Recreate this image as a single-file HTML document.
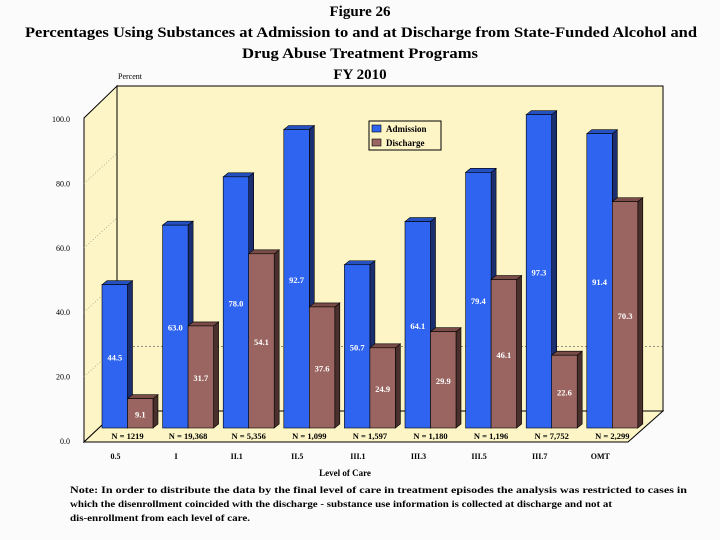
<!DOCTYPE html>
<html><head><meta charset="utf-8"><style>
html,body{margin:0;padding:0;background:#fbfbfb;}
svg{display:block;font-family:"Liberation Serif",serif;}
</style></head><body>
<svg id="chart" width="720" height="540" viewBox="0 0 720 540" xmlns="http://www.w3.org/2000/svg">
<g font-weight="bold" font-size="15" text-anchor="middle" fill="#000">
<text x="360" y="16">Figure 26</text>
<text x="361" y="37" textLength="672" lengthAdjust="spacingAndGlyphs">Percentages Using Substances at Admission to and at Discharge from State-Funded Alcohol and</text>
<text x="360" y="58" textLength="236" lengthAdjust="spacingAndGlyphs">Drug Abuse Treatment Programs</text>
<text x="360" y="79">FY 2010</text>
</g>
<text x="118" y="79" font-size="8">Percent</text>
<polygon points="117,86 663,86 663,411 117,411" fill="#fdf5c6" stroke="#000" stroke-width="1"/>
<polygon points="84,118 117,86 117,411 84,442" fill="#fdf5c6" stroke="#000" stroke-width="1"/>
<polygon points="84,442 117,411 663,411 628,442" fill="#fdf5c6" stroke="#000" stroke-width="1"/>
<g id="axis"></g>
<g id="bars"></g>
<g id="labels"></g>
<g>
<rect x="369" y="121" width="72" height="29" fill="#fdf5c6" stroke="#000" stroke-width="1"/>
<rect x="372" y="125" width="9" height="7" fill="#2e64f0" stroke="#000" stroke-width="0.6"/>
<text x="386" y="132" font-size="9" font-weight="bold">Admission</text>
<rect x="372" y="139" width="9" height="7" fill="#9a6560" stroke="#000" stroke-width="0.6"/>
<text x="386" y="146" font-size="9" font-weight="bold">Discharge</text>
</g>
<text x="345" y="476" font-size="9" font-weight="bold" text-anchor="middle">Level of Care</text>
<g font-size="9.5" font-weight="bold">
<text x="70" y="493" textLength="617" lengthAdjust="spacingAndGlyphs">Note: In order to distribute the data by the final level of care in treatment episodes the analysis was restricted to cases in</text>
<text x="70" y="507" textLength="542" lengthAdjust="spacingAndGlyphs">which the disenrollment coincided with the discharge - substance use information is collected at discharge and not at</text>
<text x="70" y="521" textLength="180" lengthAdjust="spacingAndGlyphs">dis-enrollment from each level of care.</text>
</g>
</svg>
<script>
const categories=["0.5","I","II.1","II.5","III.1","III.3","III.5","III.7","OMT"];
const nLabels=["N = 1219","N = 19,368","N = 5,356","N = 1,099","N = 1,597","N = 1,180","N = 1,196","N = 7,752","N = 2,299"];
const admission=[44.5,63.0,78.0,92.7,50.7,64.1,79.4,97.3,91.4];
const discharge=[9.1,31.7,54.1,37.6,24.9,29.9,46.1,22.6,70.3];
const yTicks=[0,20,40,60,80,100];
const yTickLabels=["0.0","20.0","40.0","60.0","80.0","100.0"];

const NS="http://www.w3.org/2000/svg";
function mk(tag,attrs,parent){const e=document.createElementNS(NS,tag);for(const k in attrs)e.setAttribute(k,attrs[k]);parent.appendChild(e);return e;}
const yAxis=v=>441-v*3.22;
const yBar=v=>428-v*3.22;
const yBack=v=>411-v*3.22;
const xGroup=i=>102+i*60.6;
const bw=25.5, dx=5, dy=4;

const axis=document.getElementById('axis');
mk('line',{x1:84,y1:118,x2:84,y2:442,stroke:'#000','stroke-width':1},axis);
yTicks.forEach((t,i)=>{
  const y=yAxis(t);
  const l=mk('text',{x:70,y:y+3,'font-size':8,'text-anchor':'end'},axis);
  l.textContent=yTickLabels[i];
  
  
  if(t>0&&t<100){
    const g=mk('line',{x1:84,y1:y,x2:117,y2:yBack(t),stroke:'#888','stroke-width':0.6,'stroke-dasharray':'1,2'},axis);
    
    
  }
});
const gl=mk('line',{x1:117,y1:yBack(20),x2:663,y2:yBack(20),stroke:'#555','stroke-width':0.6,'stroke-dasharray':'2,2'},axis);



const bars=document.getElementById('bars');
function bar(x,v,front,side,top,name,lab){
  const y=yBar(v),b=428;
  const g=mk('g',{},bars);
  
  
  mk('polygon',{points:`${x+bw},${b} ${x+bw+dx},${b-dy} ${x+bw+dx},${y-dy} ${x+bw},${y}`,fill:side,stroke:'#000','stroke-width':0.6},g);
  mk('polygon',{points:`${x},${y} ${x+dx},${y-dy} ${x+bw+dx},${y-dy} ${x+bw},${y}`,fill:top,stroke:'#000','stroke-width':0.6},g);
  mk('rect',{x:x,y:y,width:bw,height:b-y,fill:front,stroke:'#000','stroke-width':0.6},g);
  const t=mk('text',{x:x+bw/2,y:(y+b)/2+4,'font-size':8.5,'font-weight':'bold','text-anchor':'middle',fill:'#fff'},g);
  t.textContent=lab;
}
categories.forEach((c,i)=>{
  const x=xGroup(i);
  bar(x,admission[i],'#2e64f0','#1b2f70','#2450c0','bar-admission-'+i,admission[i].toFixed(1));
  bar(x+bw,discharge[i],'#9a6560','#4a302c','#7a4c48','bar-discharge-'+i,discharge[i].toFixed(1));
});
const labels=document.getElementById('labels');
categories.forEach((c,i)=>{
  const cx=xGroup(i)+bw;
  const n=mk('text',{x:cx,y:439,'font-size':8.5,'font-weight':'bold','text-anchor':'middle'},labels);
  n.textContent=nLabels[i];
  
  
  const t=mk('text',{x:cx-12,y:459,'font-size':8,'font-weight':'bold','text-anchor':'middle'},labels);
  t.textContent=c;
  
  
});
</script>
</body></html>
